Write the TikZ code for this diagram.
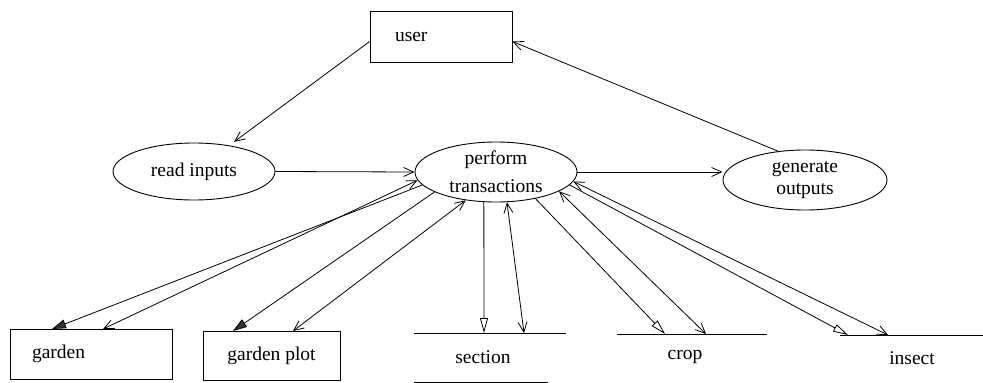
\documentclass[tikz,border=0pt]{standalone}
\usepackage{fontspec}
\setmainfont{Liberation Serif}
\usetikzlibrary{shapes.geometric,arrows.meta}

\begin{document}
\begin{tikzpicture}[x=1pt,y=-1pt,font=\fontsize{19.5}{22}\selectfont,
  box/.style={draw,line width=0.8pt,inner ysep=0pt},
  proc/.style={draw,ellipse,line width=0.9pt,inner sep=0pt,align=center},
  store/.style={inner sep=0pt},
  storeline/.style={line width=0.8pt},
  flow/.style={line width=0.8pt,-{Straight Barb[length=10pt,width=9pt]}},
  both/.style={line width=0.8pt,{Straight Barb[length=10pt,width=9pt]}-{Straight Barb[length=10pt,width=9pt]}},
  closedtip/.style={line width=0.8pt,-{Triangle[length=14pt,width=9pt,fill=black!80]}},
  opentip/.style={line width=0.8pt,-{Triangle[open,length=15pt,width=8pt]}}]

\useasboundingbox (0,0) rectangle (983,383);

\node[box,text width=92pt,inner xsep=25pt,minimum height=51pt,align=left] (usr) at (441,36.5) {user};

\node[proc,minimum width=162pt,minimum height=57pt] (read) at (194,171.5) {read inputs};
\node[proc,minimum width=162pt,minimum height=60pt] (perf) at (496,172) {perform\\[6pt]transactions};
\node[proc,minimum width=164pt,minimum height=60pt] (gen) at (805,180) {generate\\outputs};

\node[box,text width=118pt,inner xsep=22pt,minimum height=50pt,align=left] (gdn) at (91,354) {garden};
\node[box,minimum width=137pt,minimum height=49pt] (gpl) at (271.5,355.5) {garden plot};

\node[store] (sec) at (483,357) {section};
\node[store] (crop) at (685,357) {crop};
\node[store] (ins) at (912,358) {insect};

\draw[storeline] (414,333) -- (566,333);
\draw[storeline] (414,382) -- (548,382);
\draw[storeline] (617,334) -- (767,334);
\draw[storeline] (840,335) -- (983,335);

\coordinate (gdn-a) at (52,329);
\coordinate (gdn-b) at (103,329);
\coordinate (gpl-a) at (233,331);
\coordinate (gpl-b) at (293,331);
\coordinate (sec-a) at (484,333);
\coordinate (sec-b) at (524,333);
\coordinate (crop-a) at (665,334);
\coordinate (crop-b) at (706,334);
\coordinate (ins-a) at (848,335);
\coordinate (ins-b) at (888,335);

\draw[flow,shorten >=6pt] (usr.184) -- (read);
\draw[flow] (read.east) -- (perf.west);
\draw[flow] (perf.east) -- (perf.east -| gen.west);
\draw[flow] (gen.133) -- (usr.356);

\draw[closedtip] (perf.190) -- (gdn-a);
\draw[both] (gdn-b) -- (perf.186);
\draw[closedtip] (perf.198) -- (gpl-a);
\draw[both] (gpl-b) -- (perf.223);
\draw[opentip] (perf.248) -- (sec-a);
\draw[both] (sec-b) -- (perf.290);
\draw[opentip] (perf.326) -- (crop-a);
\draw[both] (crop-b) -- (perf.343);
\draw[opentip] (perf.350) -- (ins-a);
\draw[both] (ins-b) -- (perf.353);
\end{tikzpicture}
\end{document}
